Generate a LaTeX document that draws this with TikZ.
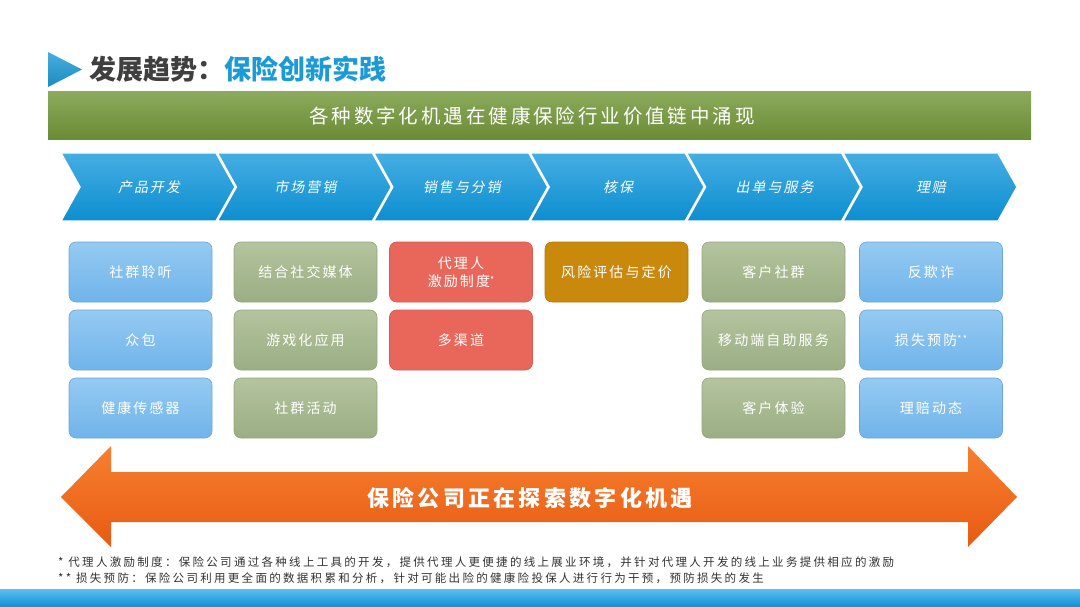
\documentclass[tikz,border=0pt]{standalone}
\usepackage{fontspec}
\setmainfont{Noto Sans CJK SC}
\newfontfamily\chevfont[FakeSlant=0.2,LetterSpace=14]{Noto Sans CJK SC}
\newfontfamily\boxfont[LetterSpace=15]{Noto Sans CJK SC}
\newfontfamily\banfont[LetterSpace=15]{Noto Sans CJK SC}
\newfontfamily\fnfont[LetterSpace=20]{Noto Sans CJK SC}
\definecolor{chevtop}{HTML}{45AEE3}
\definecolor{chevbot}{HTML}{0C8ED0}
\definecolor{bantop}{HTML}{8CAA5C}
\definecolor{banbot}{HTML}{6A8B34}
\definecolor{orgtop}{HTML}{F7802F}
\definecolor{orgbot}{HTML}{E75A12}
\definecolor{bluetop}{HTML}{95CAF2}
\definecolor{bluebot}{HTML}{70B4EA}
\definecolor{blueedge}{HTML}{6AA8DC}
\definecolor{grntop}{HTML}{B4C49F}
\definecolor{grnbot}{HTML}{9BAE83}
\definecolor{grnedge}{HTML}{94A77D}
\definecolor{redbox}{HTML}{E8675A}
\definecolor{goldbox}{HTML}{C8890C}
\definecolor{titlegray}{HTML}{3F3F3F}
\definecolor{titleblue}{HTML}{1C9AD6}
\definecolor{bartop}{HTML}{5CC0F0}
\definecolor{barbot}{HTML}{0F8ED2}
\definecolor{fngray}{HTML}{333333}
\tikzset{
  box/.style={rounded corners=7pt, minimum width=143pt, minimum height=60pt,
    inner sep=0pt, text=white, align=center, font=\boxfont\fontsize{14}{18}\selectfont},
  bluebox/.style={box, top color=bluetop, bottom color=bluebot, draw=blueedge, line width=0.6pt},
  greenbox/.style={box, top color=grntop, bottom color=grnbot, draw=grnedge, line width=0.6pt},
  redboxst/.style={box, fill=redbox, draw=redbox!90!black, line width=0.6pt},
  goldboxst/.style={box, fill=goldbox, draw=goldbox!90!black, line width=0.6pt},
  chevlabel/.style={text=white, font=\chevfont\fontsize{14}{16}\selectfont, inner sep=0pt},
  footnote/.style={anchor=west, inner sep=0pt, text=fngray, font=\fnfont\fontsize{11.5}{13}\selectfont}
}
\begin{document}
\begin{tikzpicture}[x=1pt,y=-1pt]
\useasboundingbox (0,0) rectangle (1080,607);
\fill[white] (0,0) rectangle (1080,607);
% title
\shade[top color=titleblue!80!white, bottom color=titleblue!90!black] (48,52) -- (82,69.5) -- (48,87) -- cycle;
\node[anchor=west, inner sep=0pt, font=\bfseries\fontsize{27}{30}\selectfont] (title) at (89,69)
  {\textcolor{titlegray}{发展趋势：}\textcolor{titleblue}{保险创新实践}};
% banner
\shade[top color=bantop, bottom color=banbot] (48,92) rectangle (1031,140);
\node[text=white, inner sep=0pt, font=\banfont\fontsize{19.5}{22}\selectfont] (banner) at (532,116)
  {各种数字化机遇在健康保险行业价值链中涌现};
% chevrons
\foreach \i/\t [evaluate=\i as \x using 61+156.4*\i] in {0/产品开发,1/市场营销,2/销售与分销,3/核保,4/出单与服务,5/理赔}{
  \shade[top color=chevtop, bottom color=chevbot, draw=white, line width=1.4pt]
    (\x,153) -- (\x+155,153) -- (\x+174,187) -- (\x+155,221) -- (\x,221) -- (\x+19,187) -- cycle;
  \node[chevlabel] (chev\i) at (\x+88,187) {\t};
}
% boxes
\node[bluebox] (b11) at (140.5,272) {社群聆听};
\node[bluebox] (b12) at (140.5,340) {众包};
\node[bluebox] (b13) at (140.5,408) {健康传感器};
\node[greenbox] (b21) at (305.5,272) {结合社交媒体};
\node[greenbox] (b22) at (305.5,340) {游戏化应用};
\node[greenbox] (b23) at (305.5,408) {社群活动};
\node[redboxst] (b31) at (461,272) {代理人\\激励制度{\fontsize{9}{9}\selectfont\raisebox{3pt}{*}}};
\node[redboxst] (b32) at (461,340) {多渠道};
\node[goldboxst] (b41) at (616.5,272) {风险评估与定价};
\node[greenbox] (b51) at (773.5,272) {客户社群};
\node[greenbox] (b52) at (773.5,340) {移动端自助服务};
\node[greenbox] (b53) at (773.5,408) {客户体验};
\node[bluebox] (b61) at (931,272) {反欺诈};
\node[bluebox] (b62) at (931,340) {损失预防{\fontsize{9}{9}\selectfont\raisebox{3pt}{**}}};
\node[bluebox] (b63) at (931,408) {理赔动态};
% double arrow
\shade[top color=orgtop, bottom color=orgbot]
  (61,497) -- (111,446) -- (111,472) -- (968,472) -- (968,446) -- (1017,497)
  -- (968,547) -- (968,522) -- (111,522) -- (111,547) -- cycle;
\node[text=white, inner sep=0pt, font=\banfont\bfseries\fontsize{22}{26}\selectfont] (arrowtext) at (530,498)
  {保险公司正在探索数字化机遇};
% footnotes
\node[footnote] (fn1) at (58,562) {* 代理人激励制度：保险公司通过各种线上工具的开发，提供代理人更便捷的线上展业环境，并针对代理人开发的线上业务提供相应的激励};
\node[footnote] (fn2) at (58,578) {** 损失预防：保险公司利用更全面的数据积累和分析，针对可能出险的健康险投保人进行行为干预，预防损失的发生};
% bottom bar
\shade[top color=bartop, bottom color=barbot] (0,589) rectangle (1080,607);
\end{tikzpicture}
\end{document}
